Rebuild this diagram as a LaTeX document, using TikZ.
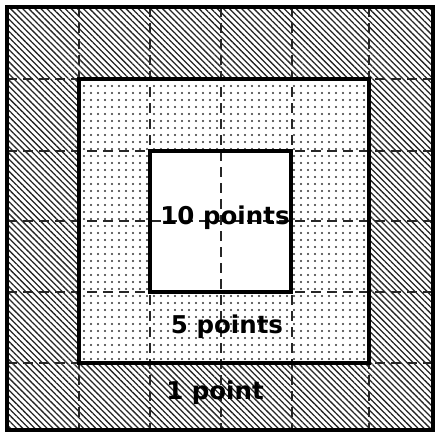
\documentclass[tikz,border=0pt]{standalone}
\usepackage{fontspec}
\setmainfont{DejaVu Sans}
\usetikzlibrary{patterns.meta}
\tikzset{
  hatchfill/.style={pattern={Lines[angle=-45,distance=4.3pt,line width=1.3pt]},pattern color=black!85},
  dotfill/.style={pattern={Dots[distance=7pt,radius=1.05pt]},pattern color=black!80},
  border/.style={line width=4pt},
  gridline/.style={line width=2pt,dash pattern=on 10pt off 6pt,black!85},
  lbl/.style={font=\fontsize{24.5}{28}\selectfont\bfseries,inner sep=0pt}
}
\begin{document}
\begin{tikzpicture}[x=1pt,y=-1pt]
\useasboundingbox (0,0) rectangle (441,436);
\fill[white] (0,0) rectangle (441,436);
% areas
\coordinate (o1) at (7,7); \coordinate (o2) at (433,430);
\coordinate (m1) at (79,79); \coordinate (m2) at (369,363);
\coordinate (i1) at (150,151); \coordinate (i2) at (291,292);
\fill[hatchfill] (o1) rectangle (o2);
\fill[white] (m1) rectangle (m2);
\fill[dotfill] (m1) rectangle (m2);
\fill[white] (i1) rectangle (i2);
% dashed grid
\foreach \x in {79,150,221,292,369} {
  \coordinate (gt\x) at (\x,7); \coordinate (gb\x) at (\x,430);
  \draw[gridline] (gt\x) -- (gb\x);
}
\foreach \y in {79,151,221,292,363} {
  \coordinate (gl\y) at (7,\y); \coordinate (gr\y) at (433,\y);
  \draw[gridline] (gl\y) -- (gr\y);
}
% borders
\draw[border] (o1) rectangle (o2);
\draw[border] (m1) rectangle (m2);
\draw[border] (i1) rectangle (i2);
% labels
\node[lbl] (t10) at (225,218) {10 points};
\node[lbl] (t5) at (227,327) {5 points};
\node[lbl] (t1) at (215,393) {1 point};
\end{tikzpicture}
\end{document}
